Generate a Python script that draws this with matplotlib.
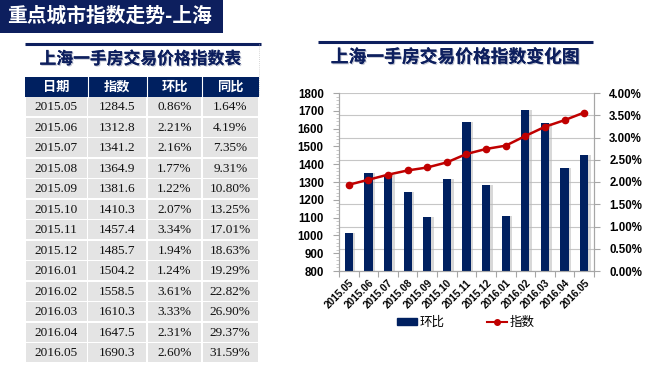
import matplotlib
matplotlib.use("Agg")
import matplotlib.pyplot as plt
from matplotlib.patches import Rectangle
from matplotlib.lines import Line2D
import matplotlib.patheffects as pe
import numpy as np

plt.rcParams['font.family'] = ['Liberation Sans', 'Noto Sans CJK SC', 'DejaVu Sans']

# ---------------- data ----------------
months = ["2015.05", "2015.06", "2015.07", "2015.08", "2015.09", "2015.10", "2015.11",
          "2015.12", "2016.01", "2016.02", "2016.03", "2016.04", "2016.05"]
index_vals = [1284.5, 1312.8, 1341.2, 1364.9, 1381.6, 1410.3, 1457.4,
              1485.7, 1504.2, 1558.5, 1610.3, 1647.5, 1690.3]
mom_pct = [0.86, 2.21, 2.16, 1.77, 1.22, 2.07, 3.34, 1.94, 1.24, 3.61, 3.33, 2.31, 2.60]
yoy_pct = [1.64, 4.19, 7.35, 9.31, 10.80, 13.25, 17.01, 18.63, 19.29, 22.82, 26.90, 29.37, 31.59]
table_headers = ["日期", "指数", "环比", "同比"]
left_ticks = [800, 900, 1000, 1100, 1200, 1300, 1400, 1500, 1600, 1700, 1800]
right_ticks = [0.0, 0.5, 1.0, 1.5, 2.0, 2.5, 3.0, 3.5, 4.0]

banner_title = "重点城市指数走势-上海"
table_title = "上海一手房交易价格指数表"
chart_title = "上海一手房交易价格指数变化图"
legend_labels = ["环比", "指数"]

NAVY = "#002060"
TITLE_NAVY = "#0d1f5e"
RED = "#C00000"
CJK = ['Noto Sans CJK SC', 'DejaVu Sans']
SERIF = ['Liberation Serif', 'DejaVu Serif']

W, H = 645, 369
fig = plt.figure(figsize=(W / 100, H / 100), dpi=100)

# overlay in pixel coordinates
bg = fig.add_axes([0, 0, 1, 1])
bg.set_xlim(0, W)
bg.set_ylim(H, 0)
bg.axis('off')

# banner
bg.add_patch(Rectangle((0, 0), 223, 33, color=TITLE_NAVY, lw=0))
bg.text(7, 16, banner_title, color='white', fontsize=14.2, fontweight='bold',
        family=CJK, va='center', ha='left')

shadow = [pe.withSimplePatchShadow(offset=(0.8, -0.8), shadow_rgbFace='#9aa0b5', alpha=0.6), pe.Normal()]

# table title
bg.plot([25, 261], [43.5, 43.5], color=TITLE_NAVY, lw=2.2, solid_capstyle='butt')
bg.text(140, 59, table_title, color=TITLE_NAVY, fontsize=12.1, fontweight='bold',
        family=CJK, va='center', ha='center', path_effects=shadow)
bg.plot([259, 259], [44, 96], color='#c8c8c8', lw=0.6, ls=(0, (1, 1.5)))

# table
col_edges = [25, 87.5, 147, 202, 258.5]
header_top, header_bot = 76.5, 96.5
row_h = (363 - header_bot) / len(months)
bg.add_patch(Rectangle((col_edges[0], header_top), col_edges[-1] - col_edges[0],
                       header_bot - header_top, color=NAVY, lw=0))
for j, htxt in enumerate(table_headers):
    cx = (col_edges[j] + col_edges[j + 1]) / 2
    bg.text(cx, (header_top + header_bot) / 2 + 0.5, htxt, color='white', fontsize=9.5,
            fontweight='bold', family=CJK, ha='center', va='center')
for j in range(1, 4):
    bg.plot([col_edges[j], col_edges[j]], [header_top, header_bot], color='white', lw=0.8)

for i, m in enumerate(months):
    y0 = header_bot + i * row_h
    vals = [m, f"{index_vals[i]:.1f}", f"{mom_pct[i]:.2f}%", f"{yoy_pct[i]:.2f}%"]
    for j in range(4):
        x0 = col_edges[j]
        bg.add_patch(Rectangle((x0 + 0.6, y0 + 0.8), col_edges[j + 1] - x0 - 1.2, row_h - 1.6,
                               color='#e4e4e4', lw=0))
        bg.text((x0 + col_edges[j + 1]) / 2, y0 + row_h / 2 + 0.6, vals[j], color='#111111',
                fontsize=9.5, family=SERIF, ha='center', va='center')

# chart title
bg.plot([318, 593], [41.5, 41.5], color=TITLE_NAVY, lw=2.2, solid_capstyle='butt')
bg.text(455, 57.5, chart_title, color=TITLE_NAVY, fontsize=12.8, fontweight='bold',
        family=CJK, va='center', ha='center', path_effects=shadow)

# ---------------- chart ----------------
pl, pr, pt, pb = 339, 594, 93, 271
ax = fig.add_axes([pl / W, 1 - pb / H, (pr - pl) / W, (pb - pt) / H])
ax2 = ax.twinx()
ax.set_zorder(ax2.get_zorder() + 1)
ax.patch.set_visible(False)

x = np.arange(len(months))
bw = 0.42
# shadow behind bars
ax2.bar(x + 0.13, mom_pct, width=bw, color='#b8b8b8', alpha=0.55, zorder=2, lw=0)
ax2.bar(x, mom_pct, width=bw, color=NAVY, zorder=3, lw=0)
ax2.set_ylim(0, 4)
ax2.set_yticks(right_ticks)
ax2.set_yticklabels([f"{v:.2f}%" for v in right_ticks])
ax2.yaxis.grid(True, color='#c6c6c6', lw=0.8)
ax2.set_axisbelow(True)

ax.plot(x, index_vals, color=RED, lw=1.8, marker='o', ms=4.5, zorder=5)
ax.set_ylim(800, 1800)
ax.set_yticks(left_ticks)
ax.set_yticks(np.arange(800, 1801, 20), minor=True)
ax.set_xlim(-0.5, len(months) - 0.5)

# x ticks: marks at boundaries, labels at centers
ax.set_xticks(np.arange(-0.5, len(months), 1.0))
ax.set_xticklabels([])
ax.set_xticks(x, minor=True)
ax.set_xticklabels(months, minor=True, rotation=45, ha='right', rotation_mode='anchor',
                   fontsize=7.2, fontweight='bold')
ax.tick_params(axis='x', which='minor', length=0, pad=5)
ax.tick_params(axis='x', which='major', length=4, color='#a6a6a6', direction='out')

ax.tick_params(axis='y', which='major', length=4, color='#a6a6a6', labelsize=8.3, pad=7)
ax.tick_params(axis='y', which='minor', length=2, color='#c0c0c0')
for lab in ax.get_yticklabels():
    lab.set_fontweight('bold')
ax2.tick_params(axis='y', length=4, color='#a6a6a6', labelsize=8.3, pad=7)
for lab in ax2.get_yticklabels():
    lab.set_fontweight('bold')
ax2.tick_params(axis='x', length=0)

for a in (ax, ax2):
    a.spines['top'].set_visible(False)
    for s in ('left', 'right', 'bottom'):
        a.spines[s].set_color('#a6a6a6')
        a.spines[s].set_linewidth(0.8)

# legend
handles = [Rectangle((0, 0), 1, 1, color=NAVY),
           Line2D([], [], color=RED, lw=1.5, marker='o', ms=4)]
fig.legend(handles, legend_labels, loc='center', bbox_to_anchor=(466 / W, 1 - 322 / H),
           ncol=2, frameon=False, prop={'family': CJK, 'size': 9},
           handlelength=1.6, handleheight=0.5, columnspacing=3.4, handletextpad=0.2)

fig.savefig("out.png", dpi=100)
